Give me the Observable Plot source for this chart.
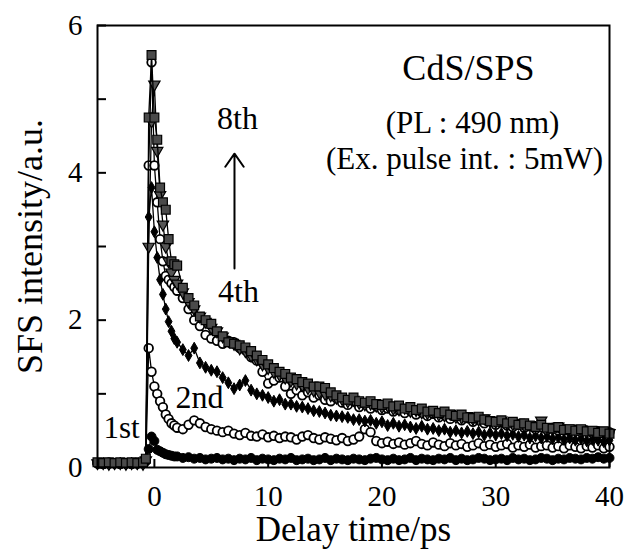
<!DOCTYPE html>
<html><head><meta charset="utf-8">
<script src="https://cdn.jsdelivr.net/npm/d3@7"></script>
<script src="https://cdn.jsdelivr.net/npm/@observablehq/plot@0.6"></script>
<style>body{margin:0;background:#fff}</style>
</head><body><div id="chart"></div>
<script>
// Delay times (ps)
const delay = [-5,-4.5,-4,-3.5,-3,-2.5,-2,-1.5,-1,-0.75,-0.5,-0.25,0,0.25,0.5,0.75,1,1.25,1.5,1.75,
  2,2.5,3,3.5,4,4.5,5,5.5,6,6.5,7,7.5,8,8.5,9,9.5,10,10.5,11,11.5,12,12.5,13,13.5,14,14.5,15,15.5,16,16.5,
  17,17.5,18,18.5,19,19.5,20,20.5,21,21.5,22,22.5,23,23.5,24,24.5,25,25.5,26,26.5,27,27.5,28,28.5,29,29.5,
  30,30.5,31,31.5,32,32.5,33,33.5,34,34.5,35,35.5,36,36.5,37,37.5,38,38.5,39,39.5,40];

// SFS intensity of each measurement run
const run1st = [0.05,0.06,0.05,0.06,0.05,0.05,0.06,0.05,0.06,0.08,
  0.25,0.42,0.36,0.24,0.22,0.2,0.18,0.17,0.16,0.15,
  0.15,0.13,0.14,0.12,0.13,0.11,0.12,0.13,0.11,0.12,
  0.1,0.12,0.11,0.13,0.1,0.12,0.11,0.1,0.12,0.11,
  0.13,0.1,0.11,0.12,0.1,0.11,0.13,0.1,0.12,0.11,
  0.1,0.12,0.11,0.1,0.12,0.13,0.11,0.1,0.12,0.1,
  0.11,0.13,0.1,0.12,0.11,0.1,0.12,0.11,0.13,0.1,
  0.12,0.1,0.11,0.13,0.12,0.1,0.11,0.12,0.1,0.13,
  0.11,0.12,0.1,0.11,0.13,0.12,0.1,0.12,0.11,0.13,
  0.12,0.11,0.13,0.12,0.14,0.12,0.13];
const run2nd = [0.06,0.05,0.07,0.06,0.05,0.06,0.05,0.07,0.06,0.1,
  1.62,1.3,1.1,1.0,0.9,0.82,0.72,0.66,0.6,0.57,
  0.54,0.52,0.58,0.64,0.6,0.55,0.52,0.5,0.48,0.5,
  0.46,0.44,0.47,0.43,0.42,0.45,0.41,0.43,0.4,0.42,
  0.41,0.38,0.42,0.44,0.4,0.38,0.41,0.39,0.37,0.4,
  0.36,0.38,0.42,0.52,0.48,0.36,0.33,0.35,0.32,0.34,
  0.31,0.33,0.36,0.32,0.3,0.34,0.31,0.29,0.33,0.3,
  0.32,0.28,0.3,0.33,0.29,0.31,0.28,0.3,0.32,0.27,
  0.3,0.28,0.31,0.27,0.29,0.3,0.27,0.29,0.26,0.3,
  0.28,0.26,0.29,0.27,0.3,0.26,0.28];
const run4th = [0.05,0.06,0.05,0.05,0.06,0.05,0.06,0.05,0.06,0.1,
  3.4,3.8,3.2,2.85,2.55,2.35,2.15,1.98,1.85,1.75,
  1.7,1.6,1.52,1.62,1.42,1.36,1.32,1.3,1.22,1.15,
  1.07,1.12,1.18,1.05,1.0,0.98,0.95,0.9,0.92,0.86,
  0.86,0.83,0.82,0.8,0.77,0.76,0.74,0.71,0.7,0.69,
  0.68,0.65,0.65,0.63,0.64,0.6,0.62,0.57,0.6,0.56,
  0.58,0.55,0.53,0.56,0.52,0.53,0.5,0.52,0.48,0.5,
  0.47,0.49,0.46,0.48,0.44,0.47,0.44,0.46,0.43,0.45,
  0.42,0.44,0.4,0.43,0.4,0.42,0.39,0.41,0.38,0.4,
  0.37,0.39,0.36,0.38,0.37,0.35,0.37];
const run6th = [0.06,0.05,0.06,0.06,0.05,0.06,0.05,0.06,0.06,0.1,
  4.1,5.5,4.1,3.6,3.1,2.8,2.6,2.55,2.5,2.45,
  2.4,2.3,2.15,2.0,1.92,1.8,1.75,1.72,1.68,1.72,
  1.7,1.62,1.59,1.5,1.45,1.3,1.14,1.18,1.22,1.1,
  1.0,1.05,0.98,1.02,0.95,0.98,0.92,0.9,0.94,0.88,
  0.85,0.9,0.82,0.86,0.8,0.83,0.78,0.8,0.76,0.78,
  0.74,0.77,0.72,0.75,0.7,0.73,0.68,0.71,0.66,0.7,
  0.64,0.67,0.62,0.65,0.6,0.63,0.58,0.61,0.57,0.55,
  0.58,0.54,0.56,0.52,0.55,0.51,0.53,0.5,0.52,0.49,
  0.51,0.48,0.5,0.47,0.49,0.46,0.48];
const run7th = [0.06,0.06,0.05,0.06,0.06,0.05,0.06,0.06,0.05,0.1,
  3.0,4.7,5.2,4.3,3.7,3.3,3.0,2.8,2.65,2.55,
  2.5,2.38,2.25,2.15,2.05,1.98,1.9,1.85,1.78,1.72,
  1.68,1.62,1.58,1.52,1.47,1.4,1.35,1.3,1.26,1.22,
  1.18,1.14,1.12,1.08,1.05,1.02,1.0,0.98,0.95,0.93,
  0.9,0.92,0.88,0.86,0.87,0.84,0.82,0.84,0.8,0.79,
  0.81,0.77,0.78,0.75,0.74,0.76,0.72,0.71,0.73,0.69,
  0.68,0.7,0.66,0.65,0.67,0.63,0.62,0.64,0.6,0.59,
  0.61,0.57,0.58,0.56,0.64,0.55,0.54,0.56,0.52,0.53,
  0.5,0.52,0.49,0.51,0.48,0.5,0.47];
const run8th = [0.07,0.06,0.07,0.06,0.07,0.06,0.07,0.06,0.07,0.12,
  4.75,5.6,4.75,4.45,3.8,3.6,3.5,3.1,2.8,2.76,
  2.74,2.44,2.3,2.2,2.05,2.0,1.95,1.85,1.78,1.7,
  1.68,1.66,1.63,1.58,1.52,1.46,1.4,1.35,1.3,1.27,
  1.22,1.2,1.16,1.14,1.1,1.1,1.08,1.02,0.98,0.95,
  0.92,0.95,0.9,0.88,0.9,0.86,0.85,0.87,0.83,0.84,
  0.8,0.82,0.78,0.8,0.76,0.77,0.74,0.76,0.72,0.7,
  0.72,0.68,0.67,0.69,0.65,0.63,0.62,0.64,0.6,0.62,
  0.58,0.6,0.57,0.55,0.58,0.54,0.53,0.55,0.51,0.52,
  0.5,0.52,0.49,0.5,0.47,0.49,0.46];

const runNames = ["1st","2nd","4th","6th","7th","8th"];
const runValues = [run1st, run2nd, run4th, run6th, run7th, run8th];

const xTicks = [0,10,20,30,40];
const yTicks = [0,1,2,3,4,5,6];
const yTickLabels = [0,2,4,6];

const triangleDown = {
  draw(ctx, size) {
    const a = Math.sqrt(4 * size / Math.sqrt(3));
    const h = a * Math.sqrt(3) / 2;
    ctx.moveTo(-a / 2, -h / 3);
    ctx.lineTo(a / 2, -h / 3);
    ctx.lineTo(0, 2 * h / 3);
    ctx.closePath();
  }
};

const markerStyle = {
  "1st": {symbol: "circle", r: 4.5, fill: "black", stroke: "black", strokeWidth: 1},
  "2nd": {symbol: "circle", r: 4.3, fill: "white", stroke: "black", strokeWidth: 1.8},
  "4th": {symbol: "diamond", r: 3.6, fill: "black", stroke: "black", strokeWidth: 1},
  "6th": {symbol: "circle", r: 4.3, fill: "white", stroke: "black", strokeWidth: 1.8},
  "7th": {symbol: triangleDown, r: 4.2, fill: "#555", stroke: "black", strokeWidth: 1.2},
  "8th": {symbol: "square", r: 5, fill: "#4a4a4a", stroke: "black", strokeWidth: 1.2}
};

const rows = runNames.map((name, i) => delay.map((t, j) => ({run: name, t, v: runValues[i][j]})));

const seriesMarks = rows.flatMap((data, i) => {
  const st = markerStyle[runNames[i]];
  return [
    Plot.line(data, {x: "t", y: "v", stroke: "black", strokeWidth: 1.3}),
    Plot.dot(data, {x: "t", y: "v", ...st})
  ];
});

const chart = Plot.plot({
  width: 627,
  height: 555,
  marginLeft: 97,
  marginRight: 18,
  marginTop: 25,
  marginBottom: 88,
  x: {domain: [-5, 40]},
  y: {domain: [0, 6]},
  style: {fontFamily: "'Liberation Serif', 'Times New Roman', serif", fontSize: "29px", color: "black", background: "white"},
  marks: [
    ...seriesMarks,
    Plot.frame({stroke: "black", strokeWidth: 2}),
    Plot.axisX({ticks: xTicks, tickSize: -8, tickPadding: 26, strokeWidth: 2, label: null, fontSize: 29}),
    Plot.axisY({ticks: yTicks, tickSize: -9, tickPadding: 24, strokeWidth: 2, label: null, fontSize: 29,
      tickFormat: d => yTickLabels.includes(d) ? String(d) : ""}),
    Plot.text(["Delay time/ps"], {frameAnchor: "bottom", lineAnchor: "middle", textAnchor: "middle", dy: 62, fontSize: 35}),
    Plot.text(["SFS intensity/a.u."], {frameAnchor: "left", lineAnchor: "middle", textAnchor: "middle", dx: -67, rotate: -90, fontSize: 36}),
    Plot.text(["CdS/SPS"], {x: 27.6, y: 5.41, fontSize: 36}),
    Plot.text(["(PL : 490 nm)"], {x: 27.96, y: 4.67, fontSize: 31}),
    Plot.text(["(Ex. pulse int. : 5mW)"], {x: 27.26, y: 4.19, fontSize: 31}),
    Plot.text(["8th"], {x: 7.3, y: 4.74, fontSize: 32}),
    Plot.text(["4th"], {x: 7.39, y: 2.38, fontSize: 32}),
    Plot.text(["2nd"], {x: 3.96, y: 0.95, fontSize: 32}),
    Plot.text(["1st"], {x: -2.89, y: 0.54, fontSize: 31}),
    Plot.arrow([0], {x1: 7.04, y1: 2.7, x2: 7.04, y2: 4.26, stroke: "black", strokeWidth: 2, headLength: 12, headAngle: 70})
  ]
});
document.getElementById("chart").appendChild(chart);
</script>
</body></html>
